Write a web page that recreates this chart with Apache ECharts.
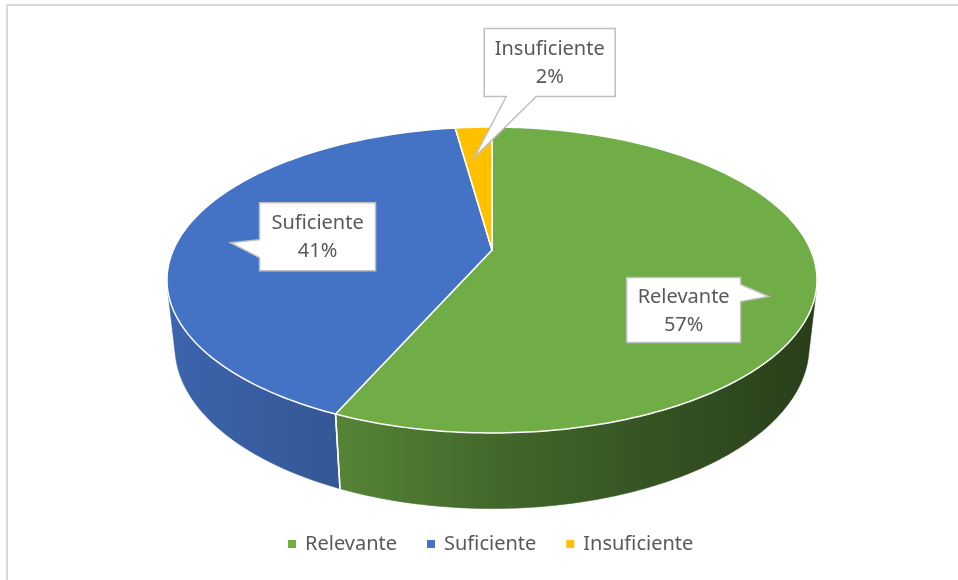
<!DOCTYPE html>
<html>
<head>
<meta charset="utf-8">
<script src="https://cdn.jsdelivr.net/npm/echarts@6/dist/echarts.min.js"></script>
<style>
  html, body { margin: 0; padding: 0; background: #fff; }
  #main { width: 958px; height: 580px; }
</style>
</head>
<body>
<div id="main"></div>
<script>
var categories = ['Relevante', 'Suficiente', 'Insuficiente'];
var values = [56.6, 41.2, 2.2];
var colors = ['#70ad47', '#4472c4', '#ffc000'];

// where each callout points inside its slice: [fraction of slice, radius]
var labelAt = [[0.54, 0.87], [0.47, 0.83], [0.36, 0.72]];
// callout box relative to the tip: [dx, dy, w, h, side, base0, base1]
var callouts = [
    [-142, -19, 114, 65, 'right', 7, 24],
    [29, -40, 116, 68, 'left', 37, 55],
    [10, -129, 131, 68, 'bottom', 22, 52]
];

var total = values.reduce(function (a, b) { return a + b; }, 0);
var starts = [];
var acc = 0;
values.forEach(function (v) { starts.push(acc / total * 360); acc += v; });

// fake 3D pie: a tilted disc seen with a little perspective
var cx = 492, cy = 250;
var sinA = 0.4616, cosA = 0.887;
var D = 4.526, k = 318.7 * D;
var depth = 0.237;

function proj(r, deg, z) {
    var t = deg * Math.PI / 180;
    var x3 = r * Math.sin(t), y3 = r * Math.cos(t);
    var w = D + y3 * cosA - z * sinA;
    return [cx + k * x3 / w, cy - k * (y3 * sinA + z * cosA) / w];
}

function area(pts) {
    var s = 0;
    for (var i = 0; i < pts.length; i++) {
        var a = pts[i], b = pts[(i + 1) % pts.length];
        s += a[0] * b[1] - b[0] * a[1];
    }
    return s;
}

function facing(deg) {
    return area([proj(1, deg - 0.5, 0), proj(1, deg + 0.5, 0),
                 proj(1, deg + 0.5, -depth), proj(1, deg - 0.5, -depth)]) < 0;
}

function shade(hex, f) {
    var n = parseInt(hex.slice(1), 16);
    var r = Math.round(((n >> 16) & 255) * f);
    var g = Math.round(((n >> 8) & 255) * f);
    var b = Math.round((n & 255) * f);
    return 'rgb(' + r + ',' + g + ',' + b + ')';
}

function sideFill(c) {
    return new echarts.graphic.LinearGradient(167, 0, 818, 0, [
        { offset: 0, color: shade(c, 0.88) },
        { offset: 0.27, color: shade(c, 0.76) },
        { offset: 0.5, color: shade(c, 0.6) },
        { offset: 1, color: shade(c, 0.36) }
    ], true);
}

function renderItem(params, api) {
    var i = params.dataIndex;
    var a0 = starts[i];
    var a1 = a0 + api.value(1) / total * 360;
    var c = colors[i];
    var grad = sideFill(c);
    var children = [];

    // side wall, only the parts turned to the viewer
    var n = Math.max(2, Math.ceil(a1 - a0));
    var run = null;
    function flush() {
        if (run && run.top.length > 1) {
            children.push({
                type: 'polygon', z2: 1,
                shape: { points: run.top.concat(run.bot.reverse()) },
                style: { fill: grad, stroke: grad, lineWidth: 0.6 }
            });
        }
        run = null;
    }
    for (var s = 0; s < n; s++) {
        var p = a0 + (a1 - a0) * s / n, q = a0 + (a1 - a0) * (s + 1) / n;
        var A = proj(1, p, 0), B = proj(1, q, 0), C = proj(1, q, -depth), Dp = proj(1, p, -depth);
        if (area([A, B, C, Dp]) < 0) {
            if (!run) run = { top: [A], bot: [Dp] };
            run.top.push(B);
            run.bot.push(C);
        } else {
            flush();
        }
    }
    flush();

    // white seams between slices on the wall
    [a0, a1].forEach(function (b) {
        if (facing(b)) {
            var t = proj(1, b, 0), u = proj(1, b, -depth);
            children.push({
                type: 'line', z2: 2,
                shape: { x1: t[0], y1: t[1], x2: u[0], y2: u[1] },
                style: { stroke: '#fff', lineWidth: 1.5 }
            });
        }
    });

    // top face
    var pts = [proj(0, 0, 0)];
    for (var j = 0; j <= n; j++) pts.push(proj(1, a0 + (a1 - a0) * j / n, 0));
    children.push({
        type: 'polygon', z2: 3,
        shape: { points: pts },
        style: { fill: c, stroke: '#fff', lineWidth: 1.5, lineJoin: 'round' }
    });

    // callout
    var la = labelAt[i];
    var tip = proj(la[1], a0 + (a1 - a0) * la[0], 0);
    var co = callouts[i];
    var L = tip[0] + co[0], T = tip[1] + co[1], R = L + co[2], Bt = T + co[3];
    var shape;
    if (co[4] === 'right') {
        shape = [[L, T], [R, T], [R, T + co[5]], tip, [R, T + co[6]], [R, Bt], [L, Bt]];
    } else if (co[4] === 'left') {
        shape = [[L, T], [R, T], [R, Bt], [L, Bt], [L, T + co[6]], tip, [L, T + co[5]]];
    } else {
        shape = [[L, T], [R, T], [R, Bt], [L + co[6], Bt], tip, [L + co[5], Bt], [L, Bt]];
    }
    children.push({
        type: 'polygon', z2: 4,
        shape: { points: shape },
        style: { fill: '#fff', stroke: '#bfbfbf', lineWidth: 1.5 }
    });
    children.push({
        type: 'text', z2: 5,
        style: {
            text: categories[i] + '\n' + Math.round(api.value(1) / total * 100) + '%',
            x: (L + R) / 2, y: (T + Bt) / 2 + 1,
            align: 'center', verticalAlign: 'middle',
            fill: '#595959', fontSize: 20, fontFamily: 'Noto Sans', lineHeight: 28
        }
    });

    return { type: 'group', children: children };
}

var chartDom = document.getElementById('main');
var myChart = echarts.init(chartDom);
var option;

option = {
    animation: false,
    backgroundColor: '#fff',
    graphic: [{
        type: 'rect',
        shape: { x: 7, y: 5, width: 1000, height: 1000 },
        style: { fill: 'none', stroke: '#d9d9d9', lineWidth: 2 },
        silent: true
    }],
    legend: {
        data: categories,
        left: 283,
        top: 529,
        icon: 'rect',
        itemWidth: 8,
        itemHeight: 8,
        itemGap: 30,
        textStyle: { color: '#595959', fontSize: 20, fontFamily: 'Noto Sans', padding: [0, 0, 0, 4] }
    },
    series: [
        {
            // only feeds the legend, drawn off the canvas
            type: 'pie',
            name: 'leyenda',
            center: [-100, -100],
            radius: [0, 1],
            silent: true,
            label: { show: false },
            data: categories.map(function (name, i) {
                return { name: name, value: values[i], itemStyle: { color: colors[i] } };
            })
        },
        {
            type: 'custom',
            name: 'pastel',
            coordinateSystem: 'none',
            silent: true,
            renderItem: renderItem,
            data: values.map(function (v, i) { return [i, v]; })
        }
    ]
};

option && myChart.setOption(option);
</script>
</body>
</html>
